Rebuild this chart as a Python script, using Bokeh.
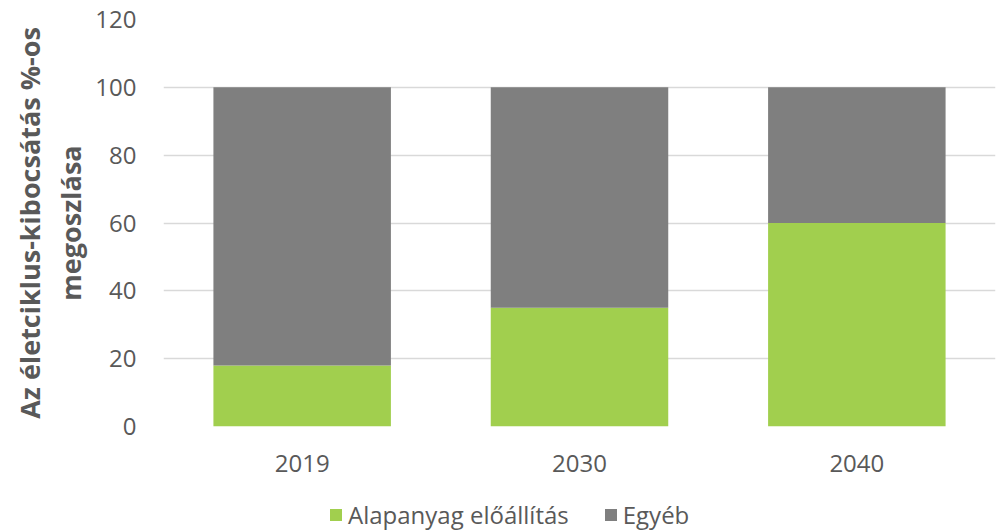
from bokeh.plotting import figure
from bokeh.layouts import column
from bokeh.models import ColumnDataSource, Legend, LegendItem, FixedTicker, Range1d, Title
from bokeh.embed import file_html
from bokeh.resources import INLINE

years = ["2019", "2030", "2040"]
alapanyag = [18, 35, 60]
egyeb = [82, 65, 40]
series_names = ["Alapanyag előállítás", "Egyéb"]
colors = ["#a1cf4e", "#7f7f7f"]
y_ticks = [0, 20, 40, 60, 80, 100, 120]
title_lines = ["megoszlása", "Az életciklus-kibocsátás %-os"]

TXT = "#595959"
src = ColumnDataSource(dict(year=years, a=alapanyag, e=egyeb))

p = figure(x_range=years, y_range=Range1d(0, 120), width=1005, height=484,
           output_backend="svg", toolbar_location=None,
           min_border_left=163, min_border_right=10, min_border_top=19, min_border_bottom=58)
p.x_range.range_padding = 0
p.outline_line_color = None

p.vbar_stack(["a", "e"], x="year", width=0.64, color=colors, source=src, line_color=None)

p.yaxis.ticker = FixedTicker(ticks=y_ticks)
p.ygrid.grid_line_color = "#d9d9d9"
p.ygrid.grid_line_width = 1.5
p.xgrid.grid_line_color = None

for ax in (p.xaxis, p.yaxis):
    ax.axis_line_color = None
    ax.major_tick_line_color = None
    ax.minor_tick_line_color = None
    ax.major_label_text_font = "Open Sans"
    ax.major_label_text_font_size = "24px"
    ax.major_label_text_color = TXT

p.xaxis.major_label_standoff = 22
p.yaxis.major_label_standoff = 21

for txt, so in zip(title_lines, [7, -3]):
    p.add_layout(Title(text=txt, align="center", text_font="Open Sans",
                       text_font_style="bold", text_font_size="27px",
                       text_color=TXT, standoff=so), "left")

# legend strip
lg = figure(width=1005, height=48, x_range=Range1d(0, 1), y_range=Range1d(0, 1),
            output_backend="svg", toolbar_location=None, min_border=0)
lg.axis.visible = False
lg.grid.visible = False
lg.outline_line_color = None
rr = [lg.quad(left=[2], right=[3], bottom=[2], top=[3], color=c, line_color=None) for c in colors]

legend = Legend(items=[LegendItem(label=n, renderers=[r]) for n, r in zip(series_names, rr)],
                orientation="horizontal", location=(165, 1),
                label_text_font="Open Sans", label_text_font_size="24px",
                label_text_color=TXT, glyph_width=15, glyph_height=15,
                label_standoff=5, spacing=34, border_line_color=None,
                background_fill_alpha=0, margin=0, padding=0)
lg.add_layout(legend, "center")

open("out.html", "w").write(file_html(column(p, lg, spacing=0), INLINE))
